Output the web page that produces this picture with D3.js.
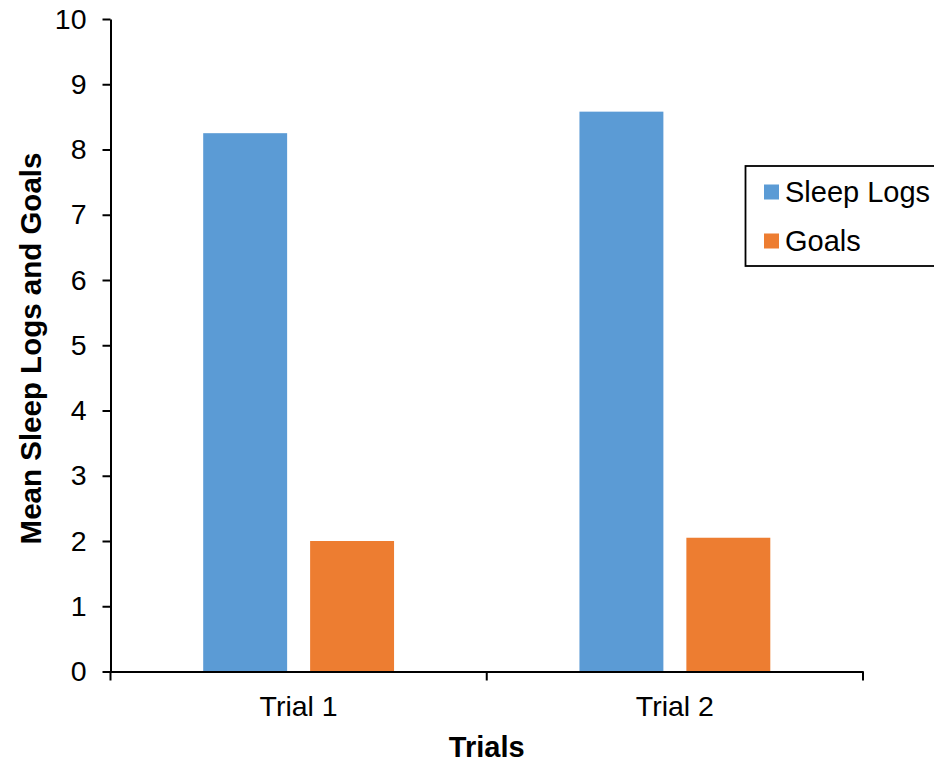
<!DOCTYPE html>
<html>
<head>
<meta charset="utf-8">
<script src="https://cdn.jsdelivr.net/npm/d3@7"></script>
<style>
  html, body { margin: 0; padding: 0; background: #fff; }
  svg { display: block; font-family: "Liberation Sans", Arial, sans-serif; }
</style>
</head>
<body>
<svg id="chart" width="934" height="766"></svg>
<script>
// Chart data
const trials = ["Trial 1", "Trial 2"];
const seriesNames = ["Sleep Logs", "Goals"];
const sleepLogs = [8.25, 8.58];
const goals = [2.0, 2.05];
const yTicks = [0, 1, 2, 3, 4, 5, 6, 7, 8, 9, 10];
const colors = ["#5B9BD5", "#ED7D31"];

const rows = trials.map((t, i) => ({ trial: t, values: [sleepLogs[i], goals[i]] }));

const svg = d3.select("#chart");
const plot = { left: 110.5, right: 863, top: 19, bottom: 671.5 };

const x = d3.scaleBand().domain(trials).range([plot.left, plot.right]).padding(0);
const xInner = d3.scaleBand().domain(seriesNames).range([0, x.bandwidth()])
  .paddingInner(0.215).paddingOuter(0.867);
const y = d3.scaleLinear().domain([0, 10]).range([plot.bottom, plot.top]);

// Bars
const groups = svg.append("g").selectAll("g").data(rows).join("g")
  .attr("transform", d => `translate(${x(d.trial)},0)`);
groups.selectAll("rect")
  .data(d => d.values.map((v, i) => ({ name: seriesNames[i], value: v, i })))
  .join("rect")
  .attr("x", d => xInner(d.name))
  .attr("width", xInner.bandwidth())
  .attr("y", d => y(d.value))
  .attr("height", d => y(0) - y(d.value))
  .attr("fill", d => colors[d.i]);

// Y axis
const yAxis = svg.append("g")
  .attr("transform", `translate(${plot.left},0)`)
  .call(d3.axisLeft(y).tickValues(yTicks).tickSize(8).tickSizeOuter(0).tickPadding(16));
yAxis.select(".domain").attr("stroke", "#000").attr("stroke-width", 2);
yAxis.selectAll(".tick line").attr("stroke", "#000").attr("stroke-width", 2);
yAxis.selectAll(".tick text").attr("font-size", 28.5).attr("fill", "#000")
  .attr("font-family", "'Liberation Sans', Arial, sans-serif");

// X axis: labels at category centres, tick marks at category boundaries
const xAxis = svg.append("g")
  .attr("transform", `translate(0,${plot.bottom})`)
  .call(d3.axisBottom(x).tickSize(0).tickSizeOuter(0).tickPadding(24));
xAxis.select(".domain").attr("stroke", "#000").attr("stroke-width", 2);
xAxis.selectAll(".tick text").attr("font-size", 28.5).attr("fill", "#000")
  .attr("font-family", "'Liberation Sans', Arial, sans-serif");
const boundaries = trials.map(t => x(t)).concat([x(trials[trials.length - 1]) + x.bandwidth()]);
xAxis.selectAll(".bound").data(boundaries).join("line")
  .attr("class", "bound")
  .attr("x1", d => d).attr("x2", d => d)
  .attr("y1", 0).attr("y2", 9)
  .attr("stroke", "#000").attr("stroke-width", 2);

// Axis titles
svg.append("text")
  .attr("x", (plot.left + plot.right) / 2)
  .attr("y", 757)
  .attr("text-anchor", "middle")
  .attr("font-size", 29).attr("font-weight", "bold")
  .text("Trials");
svg.append("text")
  .attr("transform", `translate(41,348.5) rotate(-90)`)
  .attr("text-anchor", "middle")
  .attr("font-size", 29.5).attr("font-weight", "bold")
  .text("Mean Sleep Logs and Goals");

// Legend
const legend = svg.append("g").attr("transform", "translate(745.5,166)");
legend.append("rect")
  .attr("width", 200).attr("height", 100)
  .attr("fill", "#fff").attr("stroke", "#000").attr("stroke-width", 1.8);
const items = legend.selectAll(".item").data(seriesNames).join("g")
  .attr("class", "item")
  .attr("transform", (d, i) => `translate(18.5,${18.5 + i * 49})`);
items.append("rect").attr("width", 15).attr("height", 15)
  .attr("fill", (d, i) => colors[i]);
items.append("text")
  .attr("x", 21).attr("y", 17)
  .attr("font-size", 29)
  .text(d => d);
</script>
</body>
</html>
